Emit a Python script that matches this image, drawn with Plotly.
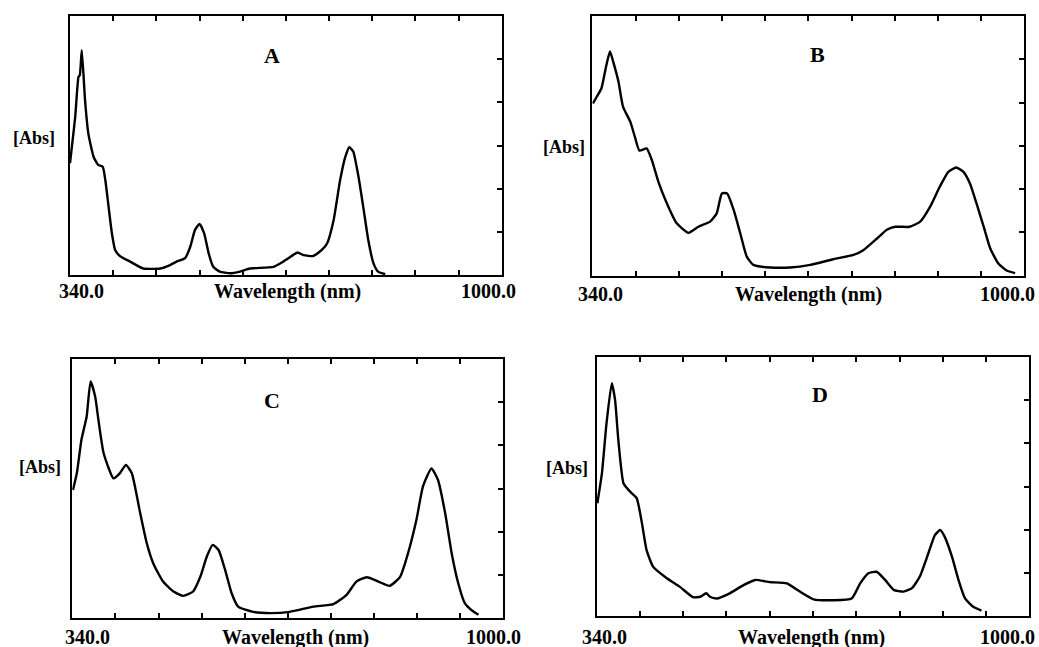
import plotly.graph_objects as go

# Absorption spectra of four samples, wavelength in nm, absorbance in arbitrary units
wl_a = [340, 348, 353, 355, 358, 363, 368, 376, 383, 390, 394, 399, 404, 409, 417, 432,
        452, 478, 493, 503, 516, 524, 531, 538, 545, 552, 559, 569, 585, 600, 615, 651,
        666, 681, 688, 697, 712, 725, 733, 743, 753, 761, 767, 773, 781, 789, 796, 804,
        811, 822]
abs_a = [2.59, 3.67, 4.59, 4.63, 5.21, 4.05, 3.28, 2.74, 2.55, 2.51, 2.20, 1.58, 0.97, 0.58,
         0.43, 0.31, 0.15, 0.15, 0.23, 0.31, 0.39, 0.66, 1.04, 1.18, 0.97, 0.50, 0.19, 0.08,
         0.04, 0.08, 0.15, 0.19, 0.31, 0.46, 0.52, 0.46, 0.44, 0.58, 0.73, 1.27, 2.20, 2.74,
         2.96, 2.86, 2.28, 1.51, 0.81, 0.27, 0.08, 0.02]

wl_b = [341, 347, 354, 361, 367, 372, 380, 387, 398, 405, 412, 423, 431, 441, 454, 469,
        487, 502, 520, 530, 538, 546, 556, 566, 576, 586, 612, 642, 673, 708, 739, 754,
        775, 790, 803, 825, 841, 856, 871, 884, 896, 907, 917, 927, 938, 948, 960, 973, 986]
abs_b = [3.98, 4.14, 4.33, 4.83, 5.18, 4.94, 4.48, 3.90, 3.56, 3.21, 2.89, 2.94, 2.67, 2.17,
         1.67, 1.21, 0.99, 1.13, 1.25, 1.44, 1.90, 1.90, 1.52, 0.98, 0.44, 0.25, 0.19, 0.19,
         0.25, 0.38, 0.48, 0.59, 0.86, 1.06, 1.13, 1.13, 1.25, 1.59, 2.06, 2.40, 2.50, 2.40,
         2.13, 1.67, 1.13, 0.63, 0.29, 0.12, 0.06]

wl_c = [341, 347, 354, 362, 368, 375, 380, 388, 403, 413, 422, 431, 444, 454, 464, 479,
        495, 510, 525, 536, 546, 555, 564, 574, 584, 594, 617, 643, 673, 709, 740, 760,
        775, 791, 809, 826, 842, 854, 867, 877, 890, 900, 911, 921, 931, 941, 952, 962]
abs_c = [2.97, 3.36, 4.13, 4.67, 5.48, 5.13, 4.59, 3.82, 3.24, 3.36, 3.55, 3.36, 2.43, 1.74,
         1.27, 0.85, 0.62, 0.52, 0.62, 0.96, 1.43, 1.70, 1.58, 1.12, 0.58, 0.27, 0.15, 0.12,
         0.15, 0.27, 0.33, 0.54, 0.85, 0.95, 0.85, 0.75, 0.96, 1.50, 2.28, 3.05, 3.47, 3.20,
         2.43, 1.50, 0.81, 0.35, 0.18, 0.08]

wl_d = [341, 348, 355, 363, 368, 373, 381, 391, 401, 409, 416, 426, 447, 467, 487, 498,
        507, 513, 523, 543, 564, 582, 604, 630, 650, 671, 701, 729, 742, 754, 767, 780,
        793, 808, 821, 833, 846, 856, 864, 871, 882, 892, 902, 915, 927]
abs_d = [2.61, 3.31, 4.47, 5.40, 5.01, 4.08, 3.07, 2.88, 2.73, 2.15, 1.53, 1.14, 0.87, 0.67,
         0.43, 0.44, 0.52, 0.44, 0.40, 0.52, 0.71, 0.83, 0.78, 0.75, 0.56, 0.38, 0.36, 0.40,
         0.75, 0.98, 1.02, 0.83, 0.60, 0.56, 0.64, 0.91, 1.45, 1.87, 1.99, 1.83, 1.37, 0.83,
         0.40, 0.20, 0.12]

panel_names = ["A", "B", "C", "D"]
x_ticks = [406, 472, 538, 604, 670, 736, 802, 868, 934]
y_ticks = [1, 2, 3, 4, 5]

W, H = 1039, 647
SERIF = "Liberation Serif"

# Frame of each panel in pixels: left, right, top, bottom
frames = [
    (70.0, 501.7, 16.0, 275.0),
    (592.3, 1024.3, 16.0, 275.7),
    (72.3, 503.3, 359.0, 618.3),
    (596.7, 1029.3, 357.3, 615.7),
]


def px(x):
    return x / W


def py(y):
    return 1 - y / H


fig = go.Figure()
series = [(wl_a, abs_a), (wl_b, abs_b), (wl_c, abs_c), (wl_d, abs_d)]
for i, (wl, ab) in enumerate(series):
    suffix = "" if i == 0 else str(i + 1)
    fig.add_trace(go.Scatter(
        x=wl, y=ab, mode="lines",
        line=dict(color="black", width=2.4, shape="spline", smoothing=0.5),
        xaxis="x" + suffix, yaxis="y" + suffix, showlegend=False, hoverinfo="skip",
    ))
    l, r, t, b = frames[i]
    fig.layout["xaxis" + suffix] = dict(
        domain=[px(l), px(r)], range=[340, 1000], anchor="y" + suffix,
        showgrid=False, zeroline=False, showticklabels=False,
        showline=True, linecolor="black", linewidth=2, mirror="ticks",
        ticks="inside", tickvals=x_ticks, ticklen=5, tickwidth=2, tickcolor="black",
    )
    fig.layout["yaxis" + suffix] = dict(
        domain=[py(b), py(t)], range=[0, 6], anchor="x" + suffix, side="right",
        showgrid=False, zeroline=False, showticklabels=False,
        showline=True, linecolor="black", linewidth=2, mirror=True,
        ticks="inside", tickvals=y_ticks, ticklen=5, tickwidth=2, tickcolor="black",
    )

# Text positions (pixels)
title_pos = [(271.7, 55.8), (817, 55), (272, 400), (820, 394)]
abs_pos = [(57, 138), (586.7, 146.7), (63.3, 466.7), (590, 468)]
left_lbl = [(57, 291), (576, 294), (63, 637), (580, 637)]
right_lbl = [(518, 291), (1036.7, 294), (523.3, 637), (1037, 637)]
mid_lbl = [(287.5, 291), (808, 294), (295, 637), (811.7, 637)]

annotations = []


def add_text(text, x, y, size, xanchor):
    annotations.append(dict(
        text="<b>%s</b>" % text, x=px(x), y=py(y), xref="paper", yref="paper",
        xanchor=xanchor, yanchor="middle", showarrow=False,
        font=dict(family=SERIF, size=size, color="black"),
    ))


for i, name in enumerate(panel_names):
    add_text(name, *title_pos[i], 22, "center")
    add_text("[Abs]", *abs_pos[i], 18, "right")
    add_text("340.0", *left_lbl[i], 20, "left")
    add_text("1000.0", *right_lbl[i], 20, "right")
    add_text("Wavelength (nm)", *mid_lbl[i], 20, "center")

fig.update_layout(
    width=W, height=H, margin=dict(l=0, r=0, t=0, b=0),
    paper_bgcolor="white", plot_bgcolor="white",
    annotations=annotations,
)

fig.write_html("out.html", config={"displayModeBar": False})
